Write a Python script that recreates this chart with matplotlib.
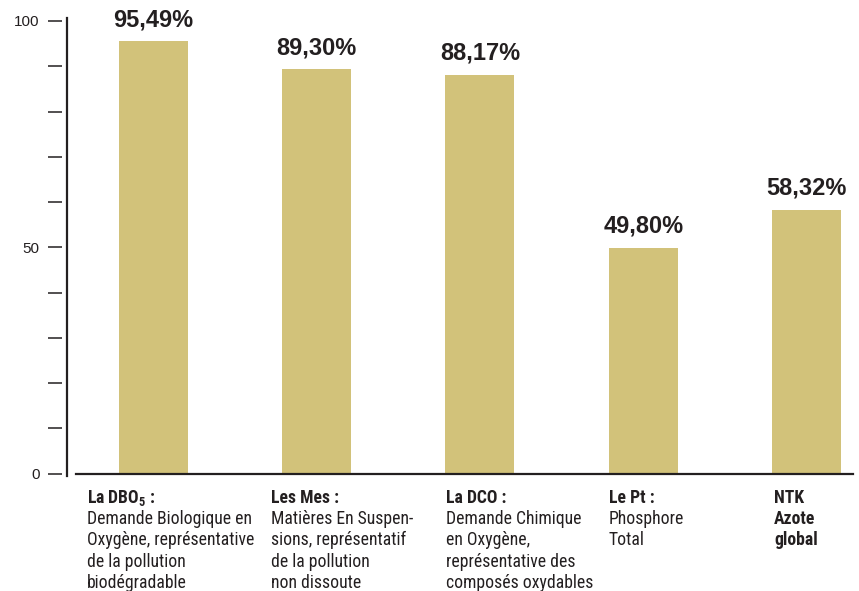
import matplotlib
matplotlib.use("Agg")
import matplotlib.pyplot as plt
from matplotlib.lines import Line2D
from matplotlib import font_manager

# ---------------- data ----------------
values = [95.49, 89.30, 88.17, 49.80, 58.32]
value_labels = ["95,49%", "89,30%", "88,17%", "49,80%", "58,32%"]
cat_titles = [[r"La DBO$_\mathbf{5}$ :"], ["Les Mes :"], ["La DCO :"], ["Le Pt :"], ["NTK", "Azote", "global"]]
cat_descs = [
    ["Demande Biologique en", "Oxygène, représentative", "de la pollution", "biodégradable"],
    ["Matières En Suspen-", "sions, représentatif", "de la pollution", "non dissoute"],
    ["Demande Chimique", "en Oxygène,", "représentative des", "composés oxydables"],
    ["Phosphore", "Total"],
    [],
]
ytick_vals = [0, 10, 20, 30, 40, 50, 60, 70, 80, 90, 100]
ytick_labels = ["0", "", "", "", "", "50", "", "", "", "", "100"]

# ---------------- style ----------------
W, H, DPI = 859, 591, 100
bar_color = "#d2c27a"
ink = "#231f20"

entries = font_manager.fontManager.ttflist
names = {f.name for f in entries}
cond_font, cond_stretch, cond_size = "Liberation Sans", "normal", 11.1
if "Liberation Sans Narrow" in names:
    cond_font, cond_stretch, cond_size = "Liberation Sans Narrow", "normal", 12.5
elif "Roboto Condensed" in names:
    cond_font, cond_stretch, cond_size = "Roboto Condensed", "normal", 12.7
elif any(f.name == "DejaVu Sans" and str(f.stretch) in ("condensed", "semi-condensed") for f in entries):
    cond_font, cond_stretch, cond_size = "DejaVu Sans", "condensed", 11.3

plt.rcParams["font.family"] = ["Liberation Sans", "DejaVu Sans"]
plt.rcParams["mathtext.fontset"] = "custom"
plt.rcParams["mathtext.rm"] = cond_font
plt.rcParams["mathtext.bf"] = cond_font + ":bold"

fig = plt.figure(figsize=(W / DPI, H / DPI), dpi=DPI)
ax_left, ax_right = 62, 853
y0_px, y100_px = 473.5, 21
ax = fig.add_axes([ax_left / W, (H - y0_px) / H, (ax_right - ax_left) / W, (y0_px - y100_px) / H])
ax.set_ylim(0, 100)
ax.set_xlim(-0.5605, 4.285)

x = list(range(len(values)))
ax.bar(x, values, width=0.4226, color=bar_color, zorder=2)

for xi, v, lab in zip(x, values, value_labels):
    ax.annotate(lab, (xi, v), xytext=(0, 11), textcoords="offset points",
                ha="center", va="baseline", fontsize=17, fontweight="bold", color=ink)

for s in ax.spines.values():
    s.set_visible(False)
ax.set_xticks([])
ax.set_yticks(ytick_vals)
ax.set_yticklabels(ytick_labels)
ax.tick_params(axis="y", length=10, width=1.1, color=ink, pad=6, labelsize=11, labelcolor=ink)

# axis lines (vertical separated from ticks, horizontal baseline)
fig.add_artist(Line2D([67 / W, 67 / W], [(H - 476) / H, (H - 18) / H], color=ink, lw=1.6))
fig.add_artist(Line2D([76 / W, 853 / W], [(H - y0_px) / H, (H - y0_px) / H], color=ink, lw=1.6))

# category labels, one line at a time
text_x_px = [87, 271, 446, 609, 774]
first_base_px = 503
line_px = 21.2
fp = dict(family=[cond_font, "DejaVu Sans"], stretch=cond_stretch, fontsize=cond_size, color=ink)
for tx, titles, descs in zip(text_x_px, cat_titles, cat_descs):
    k = 0
    for t in titles:
        fig.text(tx / W, (H - first_base_px - k * line_px) / H, t, ha="left", va="baseline",
                 fontweight="bold", **fp)
        k += 1
    for d in descs:
        fig.text(tx / W, (H - first_base_px - k * line_px) / H, d, ha="left", va="baseline", **fp)
        k += 1

fig.savefig("out.png", dpi=DPI)
